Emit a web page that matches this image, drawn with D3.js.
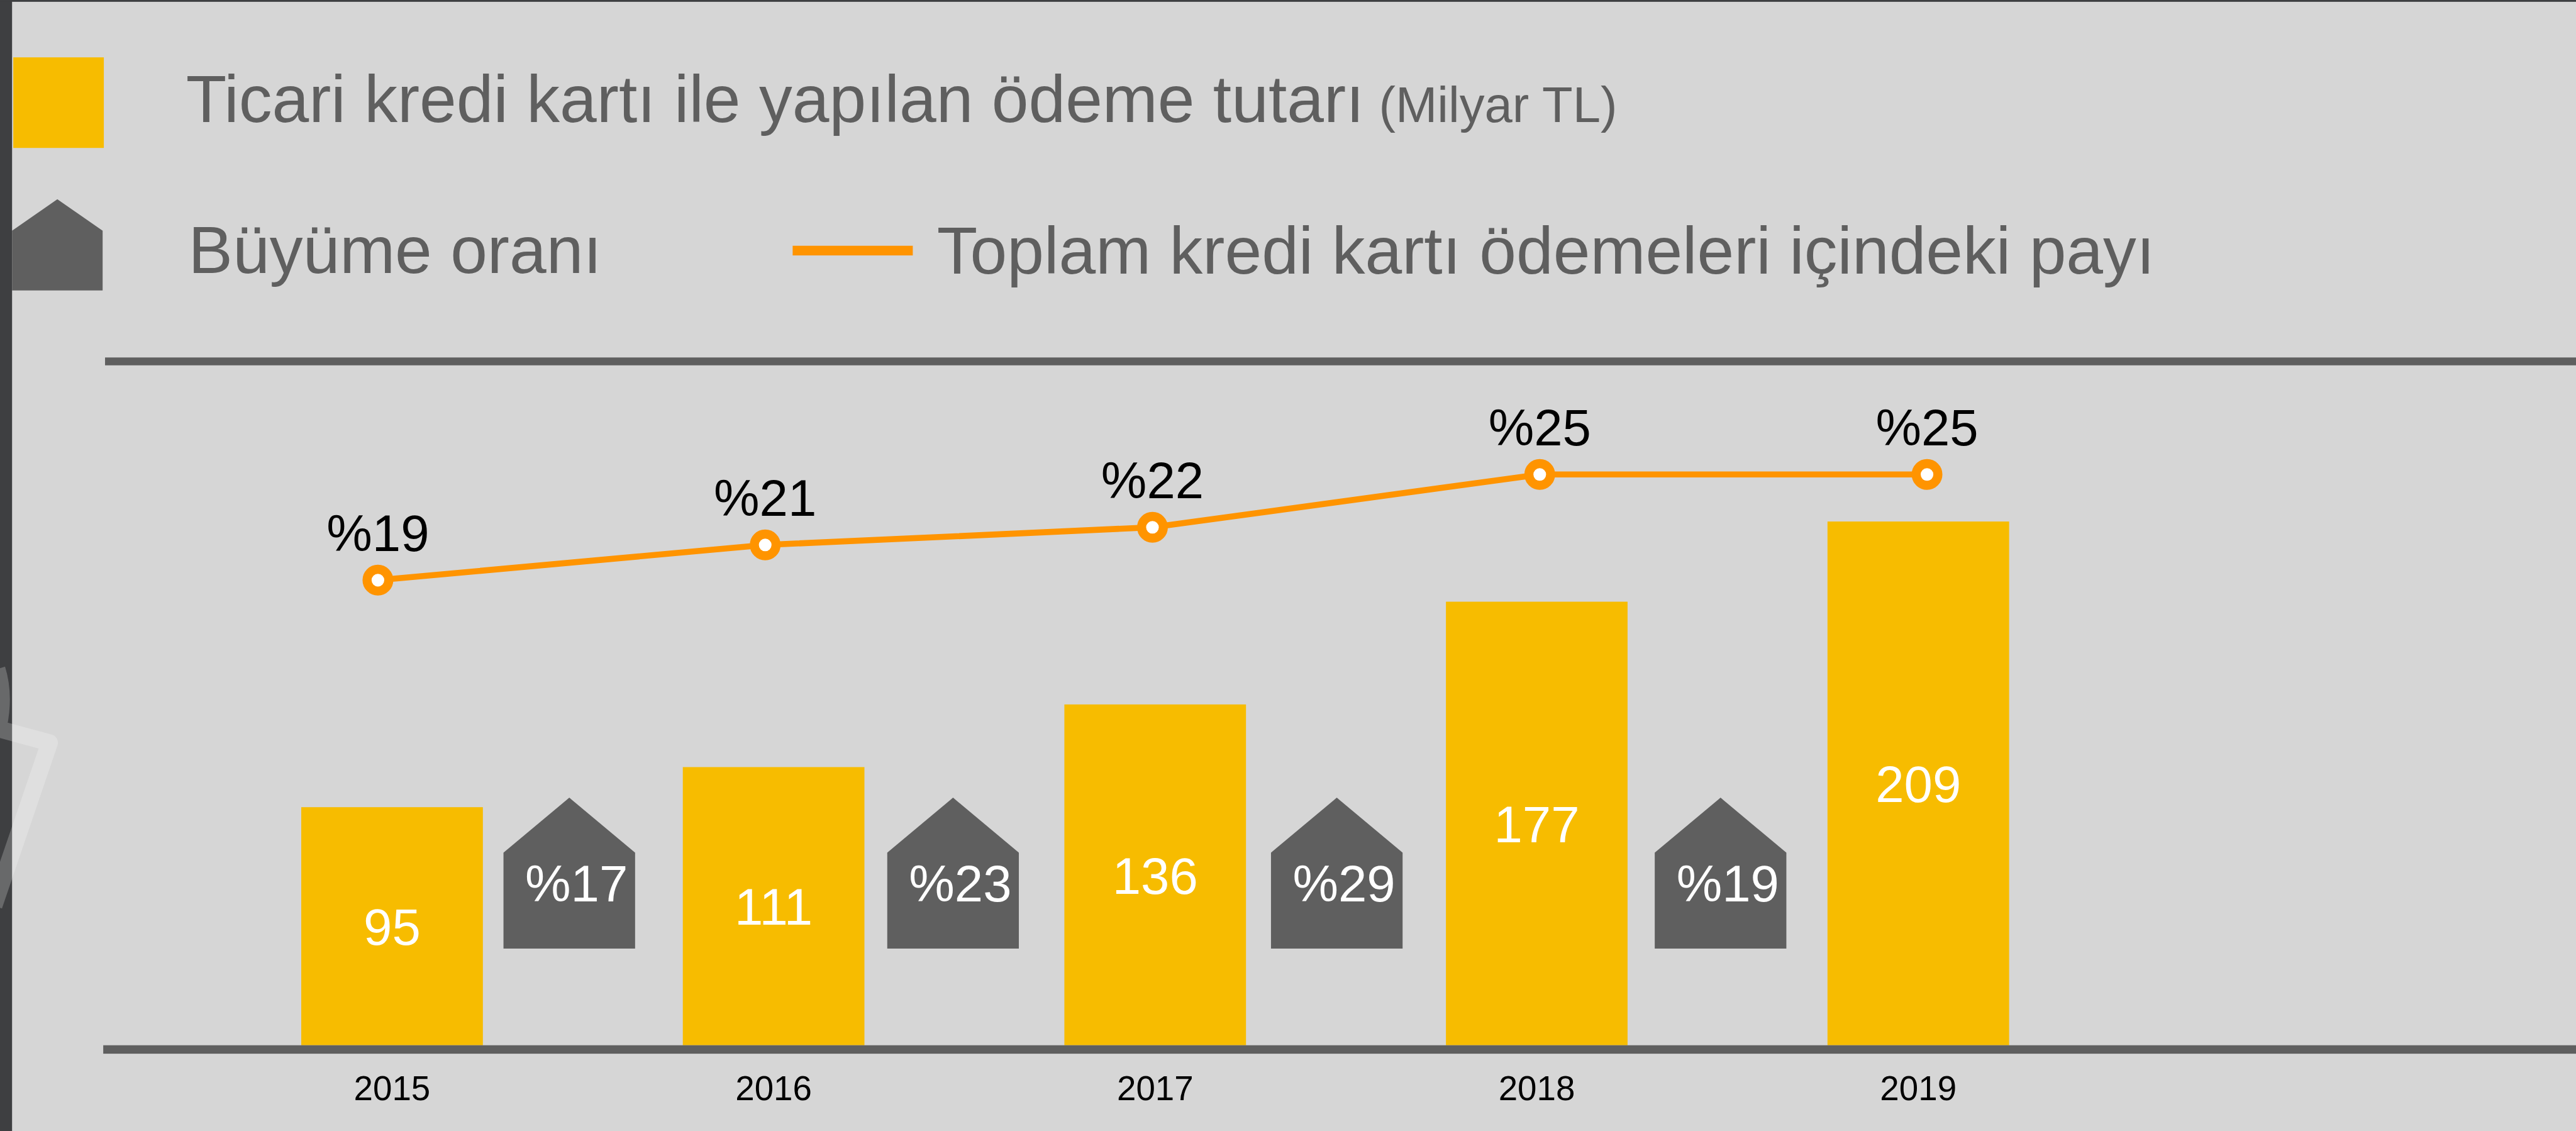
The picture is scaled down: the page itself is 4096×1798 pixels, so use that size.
<!DOCTYPE html>
<html>
<head>
<meta charset="utf-8">
<script src="https://cdnjs.cloudflare.com/ajax/libs/d3/7.8.5/d3.min.js"></script>
<style>
html,body{margin:0;padding:0;background:#d6d6d6;overflow:hidden;}
svg{display:block;}
text{font-family:"Liberation Sans",Arial,sans-serif;}
</style>
</head>
<body>
<script>
// ---- data ----
const years = ["2015","2016","2017","2018","2019"];
const paymentValues = [95, 111, 136, 177, 209];          // Milyar TL
const shareValues = [19, 21, 22, 25, 25];                // % share in total credit card payments
const growthValues = [17, 23, 29, 19];                   // % growth between consecutive years
const growthPeriods = ["2015-2016","2016-2017","2017-2018","2018-2019"];
const legendPayment = "Ticari kredi kartı ile yapılan ödeme tutarı";
const legendPaymentUnit = "(Milyar TL)";
const legendGrowth = "Büyüme oranı";
const legendShare = "Toplam kredi kartı ödemeleri içindeki payı";

// ---- layout (reference pixel space, scaled by viewBox) ----
const W = 4267, H = 1873;
const C = {bg:"#d6d6d6", frame:"#3e3f41", yellow:"#f7bc00", gray:"#5f5f5f", orange:"#ff9400"};
const svg = d3.select("body").append("svg")
  .attr("width", 4096).attr("height", 1798)
  .attr("viewBox", `0 0 ${W} ${H}`)
  .attr("preserveAspectRatio", "none");

svg.append("rect").attr("width", W).attr("height", H).attr("fill", C.bg);
// left frame strip & top border
svg.append("rect").attr("x",0).attr("y",0).attr("width",20).attr("height",H).attr("fill",C.frame);
svg.append("rect").attr("x",0).attr("y",0).attr("width",W).attr("height",3).attr("fill",C.frame);
// faint decoration at left edge
svg.append("path").attr("d","M-5,1108 Q8,1150 -2,1200 M-10,1205 L82,1230 L-10,1500")
  .attr("fill","none").attr("stroke","#ffffff").attr("stroke-opacity",0.22)
  .attr("stroke-width",28).attr("stroke-linejoin","round");

const baseY = 1731;
const x = d3.scaleBand().domain(years).range([499, 3328]).paddingInner(0.524).paddingOuter(0);
const y = d3.scaleLinear().domain([0, 250]).range([baseY, baseY - 250*4.15]);
const xShare = d3.scalePoint().domain(years).range([626, 3192]);
const yShare = d3.scaleLinear().domain([0, 30]).range([1515, 1515 - 30*29.17]);
const xGrowth = d3.scalePoint().domain(growthPeriods).range([943, 2850]);

// top rule
svg.append("rect").attr("x",174).attr("y",592).attr("width",W-174).attr("height",13).attr("fill",C.gray);

// legend
svg.append("rect").attr("x",22).attr("y",95).attr("width",150).attr("height",150).attr("fill",C.yellow);
svg.append("text").attr("x",308).attr("y",202).attr("fill",C.gray).attr("font-size",110).text(legendPayment);
svg.append("text").attr("x",2284).attr("y",202).attr("fill",C.gray).attr("font-size",83).text(legendPaymentUnit);

svg.append("path").attr("d","M20,382 L95,330 L170,382 L170,481 L20,481 Z").attr("fill",C.gray);
svg.append("text").attr("x",312).attr("y",452).attr("fill",C.gray).attr("font-size",110).text(legendGrowth);

svg.append("rect").attr("x",1313).attr("y",407).attr("width",199).attr("height",16).attr("fill",C.orange);
svg.append("text").attr("x",1552).attr("y",453).attr("fill",C.gray).attr("font-size",110).text(legendShare);

// bars
const bars = years.map((yr,i)=>({year:yr, v:paymentValues[i]}));
svg.selectAll("rect.bar").data(bars).enter().append("rect").attr("class","bar")
  .attr("x", d=>x(d.year)).attr("width", x.bandwidth())
  .attr("y", d=>y(d.v)).attr("height", d=>baseY - y(d.v)).attr("fill", C.yellow);
svg.selectAll("text.bv").data(bars).enter().append("text").attr("class","bv")
  .attr("x", d=>x(d.year)+x.bandwidth()/2)
  .attr("y", d=>(y(d.v)+baseY)/2 + 31)
  .attr("text-anchor","middle").attr("fill","#ffffff").attr("font-size",85)
  .text(d=>d.v);

// bottom axis rule + year labels
svg.append("rect").attr("x",171).attr("y",baseY).attr("width",W-171).attr("height",14).attr("fill",C.gray);
svg.selectAll("text.yr").data(years).enter().append("text").attr("class","yr")
  .attr("x", d=>x(d)+x.bandwidth()/2).attr("y",1822)
  .attr("text-anchor","middle").attr("fill","#000").attr("font-size",57).text(d=>d);

// growth "house" markers between bars
const hw = 218, peakY = 1321, shoulderY = 1412, bottomY = 1571;
const growth = growthValues.map((g,i)=>({g, cx:xGrowth(growthPeriods[i])}));
svg.selectAll("path.house").data(growth).enter().append("path").attr("class","house")
  .attr("d", d=>`M${d.cx-hw/2},${shoulderY} L${d.cx},${peakY} L${d.cx+hw/2},${shoulderY} L${d.cx+hw/2},${bottomY} L${d.cx-hw/2},${bottomY} Z`)
  .attr("fill", C.gray);
svg.selectAll("text.gv").data(growth).enter().append("text").attr("class","gv")
  .attr("x", d=>d.cx+12).attr("y",1493).attr("text-anchor","middle")
  .attr("fill","#fff").attr("font-size",85).text(d=>"%"+d.g);

// share line
const pts = years.map((yr,i)=>({x:xShare(yr), y:yShare(shareValues[i]), v:shareValues[i]}));
svg.append("path").datum(pts)
  .attr("d", d3.line().x(d=>d.x).y(d=>d.y))
  .attr("fill","none").attr("stroke",C.orange).attr("stroke-width",10);
svg.selectAll("circle.pt").data(pts).enter().append("circle").attr("class","pt")
  .attr("cx",d=>d.x).attr("cy",d=>d.y).attr("r",18)
  .attr("fill","#fff").attr("stroke",C.orange).attr("stroke-width",15);
svg.selectAll("text.sv").data(pts).enter().append("text").attr("class","sv")
  .attr("x",d=>d.x).attr("y",d=>d.y-48).attr("text-anchor","middle")
  .attr("fill","#000").attr("font-size",85).text(d=>"%"+d.v);
</script>
</body>
</html>
